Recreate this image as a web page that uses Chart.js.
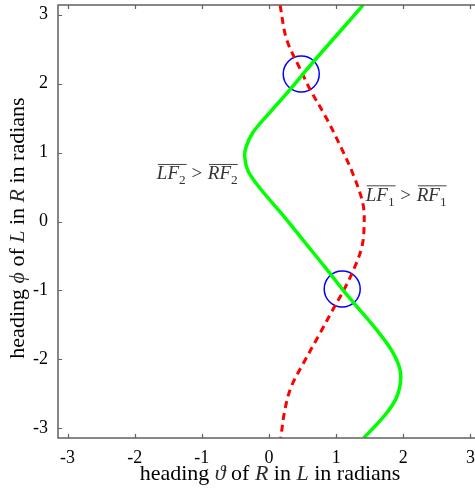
<!DOCTYPE html>
<html>
<head>
<meta charset="utf-8">
<script src="https://cdn.jsdelivr.net/npm/chart.js@4.4.3/dist/chart.umd.min.js"></script>
<style>
  html, body { margin: 0; padding: 0; background: #fff; overflow: hidden; }
  #wrap { width: 482px; height: 491px; }
</style>
</head>
<body>
<div id="wrap"><canvas id="c" width="482" height="491"></canvas></div>
<script>
const PI = Math.PI;

// branch where LF2 > RF2 (solid), sampled from top to bottom
const greenX = [1.40, 1.05, 0.68, 0.49, 0.30, 0.01, -0.24, -0.345, -0.36, -0.31, -0.14, 0.20, 0.54, 0.84, 1.09, 1.27, 1.60, 1.85, 1.96, 1.90, 1.70, 1.41];
const greenY = [3.14, 2.75, 2.34, 2.12, 1.90, 1.58, 1.29, 1.07, 0.93, 0.73, 0.49, 0.10, -0.31, -0.67, -0.98, -1.19, -1.57, -1.91, -2.21, -2.55, -2.84, -3.14];

// branch where LF1 > RF1 (dashed)
const redX = [0.165, 0.26, 0.46, 0.61, 0.86, 1.07, 1.25, 1.40, 1.415, 1.38, 1.25, 1.10, 0.95, 0.76, 0.51, 0.33, 0.235, 0.175];
const redY = [3.14, 2.65, 2.22, 1.92, 1.49, 1.08, 0.69, 0.25, -0.09, -0.38, -0.72, -1.02, -1.28, -1.62, -2.06, -2.40, -2.74, -3.14];

// crossings of the two branches
const crossX = [0.48, 1.09];
const crossY = [2.14, -0.98];

const tickValues = [-3, -2, -1, 0, 1, 2, 3];

// region labels: subscript index and anchor (data coords, left end of baseline)
const labelIndex = ["2", "1"];
const labelX = [-1.67, 1.44];
const labelY = [0.61, 0.30];

const pts = (xs, ys) => xs.map((x, i) => ({ x, y: ys[i] }));

const SERIF = "'Liberation Serif', 'DejaVu Serif', serif";
const AXIS = "#606060";

// draws a run of text pieces; pieces with bar:true get an overline
function drawRich(ctx, x, y, pieces, size) {
  let cx = x;
  let barStart = null;
  const bars = [];
  const base = ctx.fillStyle;
  for (const p of pieces) {
    const fs = p.sub ? size * 0.7 : size;
    ctx.font = `${p.it ? "italic " : ""}${fs}px ${SERIF}`;
    ctx.fillStyle = p.col || base;
    const dy = p.sub ? size * 0.25 : 0;
    ctx.fillText(p.t, cx, y + dy);
    const w = ctx.measureText(p.t).width + (p.gap || 0);
    if (p.bar) { if (barStart === null) barStart = cx; }
    else if (barStart !== null) { bars.push([barStart, cx]); barStart = null; }
    cx += w;
  }
  ctx.fillStyle = base;
  if (barStart !== null) bars.push([barStart, cx]);
  return { end: cx, bars };
}

function textWidth(ctx, pieces, size) {
  let w = 0;
  for (const p of pieces) {
    const fs = p.sub ? size * 0.7 : size;
    ctx.font = `${p.it ? "italic " : ""}${fs}px ${SERIF}`;
    w += ctx.measureText(p.t).width + (p.gap || 0);
  }
  return w;
}

const frame = {
  id: "frame",
  afterDraw(chart) {
    const { ctx, chartArea: a, scales } = chart;
    const xs = scales.x, ys = scales.y;
    ctx.save();
    ctx.strokeStyle = AXIS;
    ctx.lineWidth = 1.5;
    ctx.strokeRect(a.left, a.top, a.right - a.left, a.bottom - a.top);
    ctx.lineWidth = 1.2;
    ctx.beginPath();
    for (const v of tickValues) {
      const px = Math.round(xs.getPixelForValue(v)) + 0.5;
      ctx.moveTo(px, a.bottom); ctx.lineTo(px, a.bottom - 4);
      ctx.moveTo(px, a.top); ctx.lineTo(px, a.top + 4);
      const py = Math.round(ys.getPixelForValue(v)) + 0.5;
      ctx.moveTo(a.left, py); ctx.lineTo(a.left + 4, py);
      ctx.moveTo(a.right, py); ctx.lineTo(a.right - 4, py);
    }
    ctx.stroke();

    // region labels
    ctx.fillStyle = "#333";
    ctx.strokeStyle = "#444";
    ctx.lineWidth = 1;
    ctx.textBaseline = "alphabetic";
    ctx.textAlign = "left";
    labelIndex.forEach((k, i) => {
      const pieces = [
        { t: "LF", it: true, bar: true }, { t: k, sub: true, bar: true, gap: 1 },
        { t: " > ", gap: 1 },
        { t: "RF", it: true, bar: true }, { t: k, sub: true, bar: true }
      ];
      const bx = xs.getPixelForValue(labelX[i]);
      const by = ys.getPixelForValue(labelY[i]);
      const r = drawRich(ctx, bx, by, pieces, 19);
      ctx.beginPath();
      for (const [s, e] of r.bars) {
        ctx.moveTo(s + 1, by - 15); ctx.lineTo(e, by - 15);
      }
      ctx.stroke();
    });

    // axis titles
    ctx.fillStyle = "#000";
    const M = "#2a2a2a";
    const xt = [
      { t: "heading " }, { t: "ϑ", it: true, col: M }, { t: " of " }, { t: "R", it: true, col: M },
      { t: " in " }, { t: "L", it: true, col: M }, { t: " in radians" }
    ];
    const yt = [
      { t: "heading " }, { t: "ϕ", it: true, col: M }, { t: " of " }, { t: "L", it: true, col: M },
      { t: " in " }, { t: "R", it: true, col: M }, { t: " in radians" }
    ];
    const size = 22;
    const wx = textWidth(ctx, xt, size);
    drawRich(ctx, 270 - wx / 2, 480, xt, size);
    const wy = textWidth(ctx, yt, size);
    ctx.translate(24, 228);
    ctx.rotate(-PI / 2);
    drawRich(ctx, -wy / 2, 0, yt, size);
    ctx.restore();
  }
};

const fixTicks = (s) => { s.ticks = tickValues.map((v) => ({ value: v })); };
const noPad = (s) => { s.paddingTop = 0; s.paddingBottom = 0; s.paddingLeft = 0; s.paddingRight = 0; };

new Chart(document.getElementById("c"), {
  type: "scatter",
  data: {
    datasets: [
      {
        data: pts(greenX, greenY), showLine: true, borderColor: "#00ff00", borderWidth: 3.5,
        pointRadius: 0, tension: 0.35, fill: false
      },
      {
        data: pts(redX, redY), showLine: true, borderColor: "#ff0000", borderWidth: 3,
        borderDash: [7, 5], pointRadius: 0, tension: 0.35, fill: false
      },
      {
        data: pts(crossX, crossY), showLine: false, pointRadius: 18, pointStyle: "circle",
        borderColor: "#0000ff", backgroundColor: "rgba(0,0,0,0)", borderWidth: 1.5
      }
    ]
  },
  options: {
    responsive: false,
    animation: false,
    events: [],
    layout: { autoPadding: false, padding: { left: 0, right: 2, top: 5, bottom: 0 } },
    plugins: { legend: { display: false }, tooltip: { enabled: false } },
    scales: {
      x: {
        type: "linear", min: -PI, max: PI,
        afterBuildTicks: fixTicks,
        afterFit: (s) => { s.height = 53; noPad(s); },
        grid: { display: false, drawTicks: false },
        border: { display: false },
        ticks: { color: "#000", padding: 9, maxRotation: 0, autoSkip: false, font: { family: SERIF, size: 18 } }
      },
      y: {
        type: "linear", min: -PI, max: PI,
        afterBuildTicks: fixTicks,
        afterFit: (s) => { s.width = 58; noPad(s); },
        grid: { display: false, drawTicks: false },
        border: { display: false },
        ticks: { color: "#000", padding: 10, autoSkip: false, font: { family: SERIF, size: 18 } }
      }
    }
  },
  plugins: [frame]
});
</script>
</body>
</html>
